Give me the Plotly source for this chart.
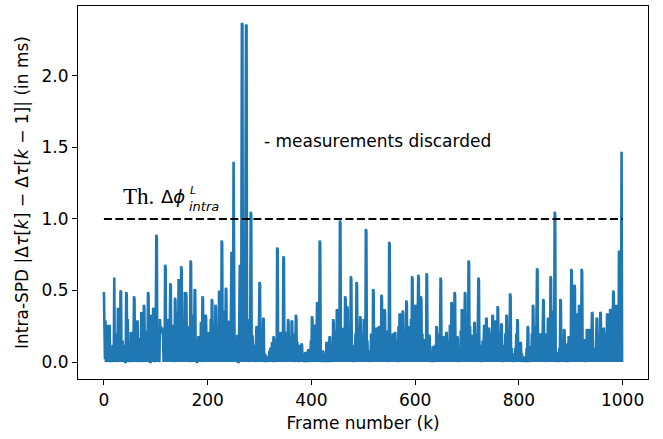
import plotly.graph_objects as go

# Intra-SPD |dtau[k] - dtau[k-1]| in ms, one value per frame (20 frames per row)
intra_spd_ms = [
    0.49, 0.31, 0.02, 0.29, 0.0, 0.05, 0.0, 0.26, 0.26, 0.0, 0.25, 0.26, 0.01, 0.0, 0.08, 0.0, 0.03, 0.12, 0.0, 0.0,
    0.59, 0.0, 0.14, 0.0, 0.2, 0.05, 0.0, 0.38, 0.3, 0.0, 0.11, 0.0, 0.5, 0.49, 0.0, 0.07, 0.15, 0.0, 0.04, 0.0,
    0.12, 0.0, 0.0, 0.49, 0.47, 0.02, 0.3, 0.0, 0.06, 0.0, 0.13, 0.0, 0.21, 0.18, 0.0, 0.03, 0.0, 0.1, 0.46, 0.44,
    0.0, 0.08, 0.0, 0.05, 0.29, 0.28, 0.0, 0.12, 0.0, 0.02, 0.17, 0.0, 0.35, 0.33, 0.0, 0.06, 0.0, 0.4, 0.38, 0.0,
    0.1, 0.0, 0.22, 0.0, 0.04, 0.49, 0.47, 0.0, 0.15, 0.0, 0.0, 0.33, 0.31, 0.0, 0.09, 0.38, 0.36, 0.0, 0.05, 0.0,
    0.2, 0.89, 0.87, 0.0, 0.24, 0.0, 0.06, 0.0, 0.3, 0.22, 0.25, 0.2, 0.24, 0.22, 0.18, 0.0, 0.1, 0.0, 0.68, 0.66,
    0.0, 0.14, 0.0, 0.3, 0.0, 0.07, 0.0, 0.2, 0.55, 0.53, 0.0, 0.11, 0.0, 0.26, 0.0, 0.04, 0.0, 0.45, 0.43, 0.0,
    0.16, 0.0, 0.35, 0.0, 0.58, 0.56, 0.0, 0.2, 0.0, 0.67, 0.64, 0.0, 0.1, 0.0, 0.3, 0.0, 0.49, 0.0, 0.49, 0.47,
    0.0, 0.12, 0.0, 0.25, 0.0, 0.05, 0.0, 0.71, 0.69, 0.0, 0.18, 0.0, 0.33, 0.0, 0.09, 0.51, 0.5, 0.0, 0.14, 0.0,
    0.0, 0.06, 0.18, 0.17, 0.0, 0.1, 0.0, 0.28, 0.0, 0.04, 0.46, 0.44, 0.0, 0.15, 0.0, 0.2, 0.33, 0.31, 0.0, 0.08,
    0.0, 0.21, 0.2, 0.0, 0.12, 0.0, 0.3, 0.0, 0.44, 0.42, 0.0, 0.16, 0.0, 0.27, 0.0, 0.4, 0.38, 0.0, 0.1, 0.0,
    0.22, 0.0, 0.5, 0.48, 0.0, 0.3, 0.0, 0.85, 0.83, 0.0, 0.2, 0.0, 0.36, 0.0, 0.12, 0.52, 0.5, 0.0, 0.25, 0.0,
    0.29, 0.27, 0.0, 0.15, 0.0, 0.4, 0.77, 0.75, 0.0, 0.3, 1.4, 0.2, 0.0, 0.1, 0.0, 0.06, 0.0, 0.19, 0.18, 0.0,
    0.0, 0.3, 0.68, 0.0, 0.1, 0.7, 2.37, 2.36, 0.0, 0.3, 0.0, 0.45, 0.0, 0.8, 2.36, 2.35, 0.0, 0.3, 0.0, 0.12,
    0.12, 0.0, 0.2, 1.05, 1.03, 0.0, 0.19, 0.17, 0.0, 0.08, 0.0, 0.12, 0.0, 0.05, 0.25, 0.24, 0.0, 0.1, 0.0, 0.3,
    0.56, 0.54, 0.0, 0.2, 0.0, 0.1, 0.0, 0.31, 0.3, 0.0, 0.06, 0.0, 0.05, 0.0, 0.03, 0.0, 0.02, 0.04, 0.0, 0.08,
    0.0, 0.1, 0.09, 0.0, 0.14, 0.0, 0.05, 0.18, 0.16, 0.0, 0.06, 0.0, 0.12, 0.0, 0.8, 0.78, 0.0, 0.15, 0.0, 0.08,
    0.21, 0.19, 0.0, 0.1, 0.0, 0.05, 0.74, 0.72, 0.0, 0.12, 0.0, 0.21, 0.2, 0.0, 0.15, 0.3, 0.28, 0.0, 0.08, 0.0,
    0.18, 0.0, 0.29, 0.28, 0.0, 0.1, 0.0, 0.2, 0.0, 0.05, 0.33, 0.31, 0.0, 0.14, 0.0, 0.04, 0.0, 0.12, 0.11, 0.0,
    0.05, 0.13, 0.12, 0.0, 0.03, 0.0, 0.06, 0.0, 0.07, 0.06, 0.0, 0.02, 0.0, 0.04, 0.09, 0.08, 0.0, 0.05, 0.0, 0.15,
    0.0, 0.32, 0.3, 0.0, 0.1, 0.26, 0.24, 0.0, 0.15, 0.0, 0.2, 0.42, 0.4, 0.0, 0.1, 0.0, 0.85, 0.83, 0.0, 0.06,
    0.0, 0.04, 0.08, 0.07, 0.0, 0.02, 0.0, 0.05, 0.0, 0.14, 0.13, 0.0, 0.06, 0.0, 0.1, 0.18, 0.17, 0.0, 0.05, 0.0,
    0.12, 0.0, 0.3, 0.28, 0.0, 0.15, 0.0, 0.22, 0.0, 0.37, 0.35, 0.0, 0.2, 0.0, 0.1, 0.99, 0.97, 0.0, 0.15, 0.0,
    0.24, 0.22, 0.0, 0.1, 0.0, 0.46, 0.44, 0.0, 0.2, 0.39, 0.37, 0.0, 0.15, 0.0, 0.08, 0.0, 0.6, 0.58, 0.0, 0.1,
    0.12, 0.11, 0.0, 0.05, 0.0, 0.2, 0.0, 0.56, 0.54, 0.0, 0.18, 0.0, 0.25, 0.0, 0.32, 0.3, 0.0, 0.12, 0.0, 0.2,
    0.0, 0.3, 0.0, 0.12, 0.0, 0.93, 0.91, 0.0, 0.15, 0.0, 0.08, 0.07, 0.0, 0.04, 0.0, 0.2, 0.0, 0.1, 0.0, 0.51,
    0.49, 0.0, 0.15, 0.0, 0.08, 0.24, 0.23, 0.0, 0.12, 0.0, 0.25, 0.24, 0.0, 0.18, 0.0, 0.47, 0.45, 0.0, 0.1, 0.0,
    0.2, 0.37, 0.35, 0.0, 0.1, 0.0, 0.22, 0.0, 0.06, 0.0, 0.84, 0.82, 0.0, 0.14, 0.0, 0.08, 0.0, 0.2, 0.19, 0.0,
    0.1, 0.21, 0.2, 0.0, 0.15, 0.0, 0.05, 0.0, 0.25, 0.0, 0.34, 0.33, 0.0, 0.2, 0.0, 0.1, 0.36, 0.34, 0.0, 0.22,
    0.0, 0.12, 0.0, 0.43, 0.41, 0.0, 0.2, 0.0, 0.1, 0.25, 0.24, 0.0, 0.3, 0.0, 0.6, 0.58, 0.0, 0.25, 0.0, 0.15,
    0.4, 0.38, 0.0, 0.28, 0.0, 0.5, 0.61, 0.59, 0.0, 0.3, 0.0, 0.46, 0.44, 0.0, 0.2, 0.0, 0.1, 0.16, 0.15, 0.0,
    0.08, 0.0, 0.62, 0.6, 0.0, 0.14, 0.0, 0.19, 0.18, 0.0, 0.05, 0.0, 0.03, 0.0, 0.11, 0.1, 0.0, 0.06, 0.0, 0.12,
    0.0, 0.25, 0.24, 0.0, 0.1, 0.0, 0.2, 0.0, 0.15, 0.59, 0.57, 0.0, 0.1, 0.0, 0.18, 0.17, 0.0, 0.08, 0.0, 0.12,
    0.21, 0.2, 0.0, 0.1, 0.0, 0.15, 0.0, 0.26, 0.25, 0.0, 0.42, 0.4, 0.0, 0.2, 0.0, 0.1, 0.49, 0.47, 0.0, 0.15,
    0.0, 0.18, 0.17, 0.0, 0.06, 0.0, 0.1, 0.0, 0.22, 0.0, 0.37, 0.35, 0.0, 0.2, 0.0, 0.3, 0.49, 0.47, 0.0, 0.25,
    0.0, 0.15, 0.0, 0.71, 0.69, 0.0, 0.25, 0.0, 0.1, 0.19, 0.18, 0.0, 0.08, 0.0, 0.28, 0.27, 0.0, 0.12, 0.0, 0.2,
    0.0, 0.3, 0.59, 0.57, 0.0, 0.1, 0.12, 0.0, 0.06, 0.0, 0.15, 0.0, 0.2, 0.26, 0.25, 0.0, 0.1, 0.31, 0.3, 0.0,
    0.15, 0.0, 0.24, 0.23, 0.0, 0.12, 0.0, 0.2, 0.0, 0.33, 0.32, 0.0, 0.15, 0.0, 0.29, 0.28, 0.0, 0.1, 0.0, 0.39,
    0.37, 0.0, 0.2, 0.0, 0.08, 0.0, 0.27, 0.26, 0.0, 0.05, 0.0, 0.12, 0.11, 0.0, 0.2, 0.0, 0.33, 0.32, 0.0, 0.15,
    0.0, 0.22, 0.0, 0.48, 0.46, 0.0, 0.1, 0.0, 0.06, 0.05, 0.0, 0.03, 0.0, 0.1, 0.0, 0.2, 0.0, 0.3, 0.28, 0.0,
    0.12, 0.0, 0.05, 0.14, 0.13, 0.0, 0.06, 0.0, 0.03, 0.0, 0.04, 0.03, 0.0, 0.02, 0.0, 0.1, 0.0, 0.25, 0.24, 0.0,
    0.05, 0.0, 0.11, 0.1, 0.0, 0.2, 0.0, 0.4, 0.38, 0.0, 0.15, 0.0, 0.25, 0.0, 0.3, 0.655, 0.64, 0.0, 0.1, 0.0,
    0.08, 0.2, 0.19, 0.0, 0.1, 0.0, 0.15, 0.44, 0.42, 0.0, 0.12, 0.0, 0.05, 0.2, 0.19, 0.0, 0.31, 0.3, 0.0, 0.15,
    0.0, 0.6, 0.58, 0.0, 0.2, 0.0, 0.36, 0.2, 0.0, 1.05, 1.03, 0.0, 0.05, 0.0, 0.03, 0.07, 0.06, 0.0, 0.1, 0.0,
    0.44, 0.42, 0.0, 0.15, 0.0, 0.08, 0.0, 0.23, 0.22, 0.0, 0.06, 0.0, 0.13, 0.12, 0.0, 0.05, 0.18, 0.17, 0.0, 0.1,
    0.0, 0.65, 0.63, 0.0, 0.2, 0.0, 0.1, 0.54, 0.52, 0.0, 0.15, 0.0, 0.34, 0.33, 0.0, 0.1, 0.4, 0.38, 0.0, 0.2,
    0.0, 0.65, 0.63, 0.0, 0.1, 0.0, 0.16, 0.15, 0.0, 0.05, 0.0, 0.23, 0.22, 0.0, 0.1, 0.23, 0.22, 0.0, 0.08, 0.0,
    0.15, 0.35, 0.34, 0.0, 0.1, 0.0, 0.08, 0.07, 0.0, 0.2, 0.31, 0.3, 0.0, 0.12, 0.0, 0.2, 0.0, 0.35, 0.34, 0.0,
    0.15, 0.0, 0.1, 0.24, 0.23, 0.0, 0.12, 0.0, 0.2, 0.0, 0.34, 0.33, 0.0, 0.15, 0.0, 0.25, 0.37, 0.36, 0.0, 0.2,
    0.0, 0.3, 0.5, 0.48, 0.0, 0.2, 0.0, 0.28, 0.4, 0.38, 0.0, 0.25, 0.0, 0.78, 0.76, 0.3, 0.0, 0.2, 1.47, 0.0,
]
frames = list(range(len(intra_spd_ms)))

threshold_x = [0, 1000]
threshold_y = [1.0, 1.0]

x_ticks = [0, 200, 400, 600, 800, 1000]
y_ticks = [0.0, 0.5, 1.0, 1.5, 2.0]

FONT = "DejaVu Sans"

fig = go.Figure()
fig.add_trace(go.Scatter(
    x=frames, y=intra_spd_ms, mode="lines",
    line=dict(color="#1f77b4", width=2.6), showlegend=False, hoverinfo="skip",
))
fig.add_trace(go.Scatter(
    x=threshold_x, y=threshold_y, mode="lines",
    line=dict(color="black", width=2.1, dash="8px,3.5px"), showlegend=False, hoverinfo="skip",
))

# threshold label: "Th." (roman) + Δϕ with stacked L superscript and "intra" subscript
fig.add_annotation(
    x=33.0, y=1.154, xref="x", yref="y", xanchor="left", yanchor="middle",
    text="Th.", showarrow=False, font=dict(family="Liberation Serif", size=23, color="black"),
)
fig.add_annotation(
    x=107.0, y=1.154, xref="x", yref="y", xanchor="left", yanchor="middle",
    text="Δ<i>ϕ</i>", showarrow=False, font=dict(family=FONT, size=18, color="black"),
)
fig.add_annotation(
    x=172.0, y=1.2, xref="x", yref="y", xanchor="center", yanchor="middle",
    text="<i>L</i>", showarrow=False, font=dict(family=FONT, size=11, color="black"),
)
fig.add_annotation(
    x=160.0, y=1.09, xref="x", yref="y", xanchor="left", yanchor="middle",
    text="<i>intra</i>", showarrow=False, font=dict(family=FONT, size=13, color="black"),
)
fig.add_annotation(
    x=304.6, y=1.545, xref="x", yref="y", xanchor="left", yanchor="middle",
    text="- measurements discarded", showarrow=False,
    font=dict(family=FONT, size=17, color="black"),
)

axis_common = dict(
    showline=True, linecolor="black", linewidth=1.2, mirror=True,
    ticks="outside", ticklen=5, tickwidth=1.2, tickcolor="black",
    showgrid=False, zeroline=False,
    tickfont=dict(family=FONT, size=17, color="black"),
)

fig.update_layout(
    width=663, height=439,
    margin=dict(l=78, r=15, t=6, b=60),
    plot_bgcolor="white", paper_bgcolor="white",
    xaxis=dict(
        range=[-49.95, 1048.95], tickvals=x_ticks, ticktext=[str(v) for v in x_ticks],
        title=dict(text="Frame number (k)", font=dict(family=FONT, size=17, color="black"), standoff=8),
        **axis_common,
    ),
    yaxis=dict(
        range=[-0.1185, 2.4885], tickvals=y_ticks, ticktext=[f"{v:.1f}" for v in y_ticks],
        title=dict(
            text="Intra-SPD |Δ<i>τ</i>[<i>k</i>] − Δ<i>τ</i>[<i>k</i> − 1]| (in ms)",
            font=dict(family=FONT, size=17, color="black"), standoff=8,
        ),
        **axis_common,
    ),
)

fig.write_html("out.html")
